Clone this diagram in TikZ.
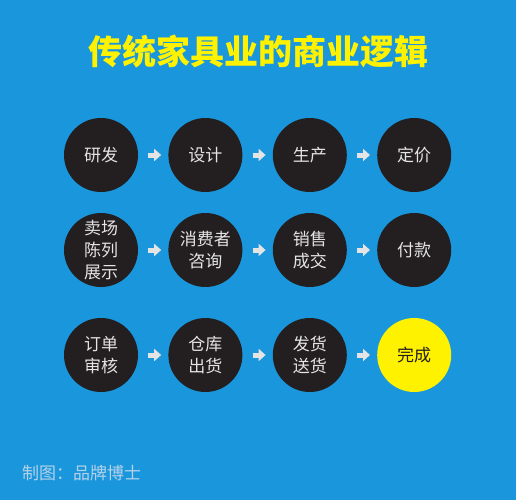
\documentclass[tikz,border=0pt]{standalone}
\usepackage{fontspec}
\usepackage{xcolor}
\usepackage{tikz}
\usetikzlibrary{arrows.meta,positioning}
\setmainfont{Noto Sans CJK SC}

\definecolor{bgblue}{HTML}{1A96DC}
\definecolor{titleyellow}{HTML}{FFF200}
\definecolor{stepdark}{HTML}{231F20}
\definecolor{arrowgray}{HTML}{E4E4E4}
\definecolor{creditgray}{HTML}{B4D2EA}

\begin{document}
\begin{tikzpicture}[x=1pt, y=-1pt,
    stepnode/.style={circle, fill=stepdark, text=arrowgray, minimum size=74pt, inner sep=0pt,
        align=center, font=\fontsize{17}{22}\selectfont},
    donenode/.style={stepnode, fill=titleyellow, text=stepdark},
    flow/.style={arrowgray, line width=5pt, shorten <=10pt, shorten >=7pt,
        -{Triangle[length=7pt, width=12pt]}}]
    % Background
    \fill[bgblue] (0,0) rectangle (516,500);
    \useasboundingbox (0,0) rectangle (516,500);

    % Title
    \node[titleyellow, font=\fontsize{34}{36}\bfseries\selectfont] (title) at (258,52) {传统家具业的商业逻辑};

    % First row
    \node[stepnode] (yanfa) at (101,155) {研发};
    \node[stepnode, right=30pt of yanfa] (sheji) {设计};
    \node[stepnode, right=30pt of sheji] (shengchan) {生产};
    \node[stepnode, right=30pt of shengchan] (dingjia) {定价};

    % Second row
    \node[stepnode] (zhanshi) at (101,250) {卖场\\陈列\\展示};
    \node[stepnode, right=30pt of zhanshi] (zixun) {消费者\\咨询};
    \node[stepnode, right=30pt of zixun] (chengjiao) {销售\\成交};
    \node[stepnode, right=30pt of chengjiao] (fukuan) {付款};

    % Third row
    \node[stepnode] (shenhe) at (101,355) {订单\\审核};
    \node[stepnode, right=30pt of shenhe] (chuhuo) {仓库\\出货};
    \node[stepnode, right=30pt of chuhuo] (songhuo) {发货\\送货};
    \node[donenode, right=30pt of songhuo] (wancheng) {完成};

    % Arrows
    \foreach \a/\b in {yanfa/sheji, sheji/shengchan, shengchan/dingjia,
                       zhanshi/zixun, zixun/chengjiao, chengjiao/fukuan,
                       shenhe/chuhuo, chuhuo/songhuo, songhuo/wancheng} {
        \draw[flow] (\a) -- (\b);
    }

    % Credit
    \node[creditgray, anchor=west, inner sep=0pt, font=\fontsize{17}{20}\selectfont] (credit) at (22,473) {制图：品牌博士};
\end{tikzpicture}
\end{document}
